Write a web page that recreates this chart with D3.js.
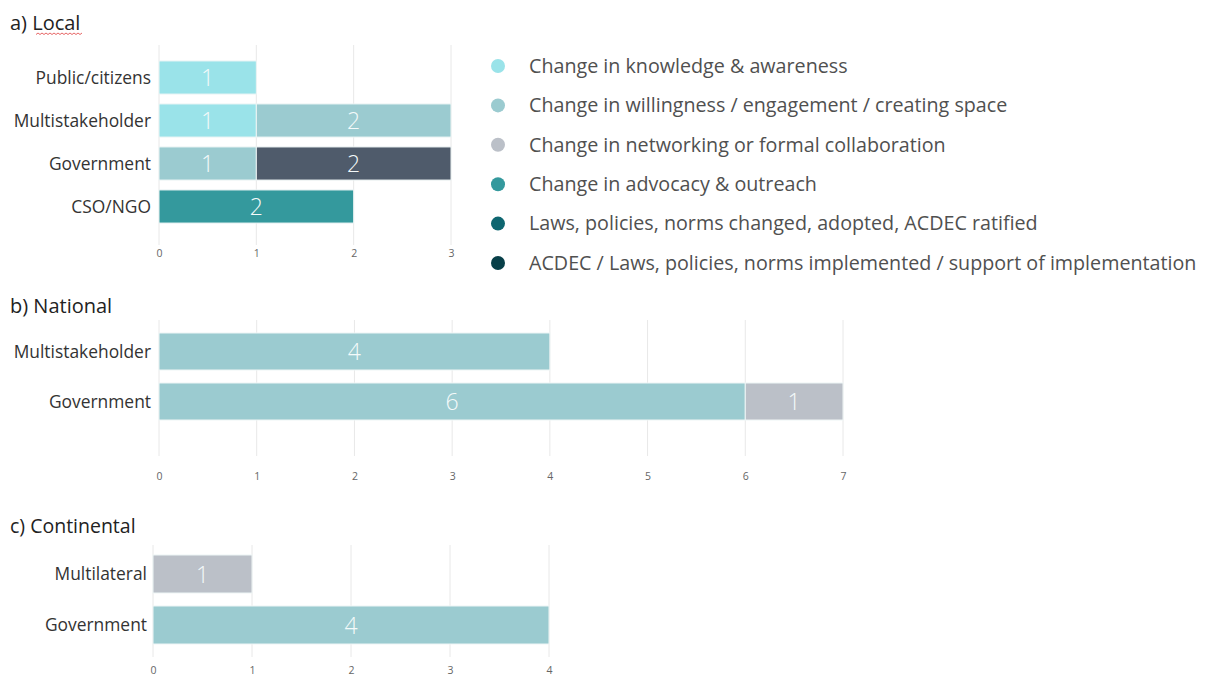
<!DOCTYPE html>
<html>
<head>
<meta charset="utf-8">
<script src="https://cdn.jsdelivr.net/npm/d3@7"></script>
<style>
  body { margin: 0; background: #fff; }
  svg text { font-family: "Open Sans", "Noto Sans", sans-serif; }
</style>
</head>
<body>
<svg id="chart" width="1206" height="677"></svg>
<script>
// series (legend order) + one extra dark slate used only by the local Government bar
const seriesNames = [
  'Change in knowledge & awareness',
  'Change in willingness / engagement / creating space',
  'Change in networking or formal collaboration',
  'Change in advocacy & outreach',
  'Laws, policies, norms changed, adopted, ACDEC ratified',
  'ACDEC / Laws, policies, norms implemented / support of implementation',
  'Other'
];
const seriesColors = ['#9ae3e9', '#9bcbd0', '#bbc0c8', '#34999d', '#0e6670', '#073f48', '#4f5b6b'];
const legendCount = 6;

// a) Local
const localCats = ['Public/citizens', 'Multistakeholder', 'Government', 'CSO/NGO'];
const localValues = [
  [1, 0, 0, 0, 0, 0, 0],
  [1, 2, 0, 0, 0, 0, 0],
  [0, 1, 0, 0, 0, 0, 2],
  [0, 0, 0, 2, 0, 0, 0]
];
const localTicks = [0, 1, 2, 3];

// b) National
const nationalCats = ['Multistakeholder', 'Government'];
const nationalValues = [
  [0, 4, 0, 0, 0, 0, 0],
  [0, 6, 1, 0, 0, 0, 0]
];
const nationalTicks = [0, 1, 2, 3, 4, 5, 6, 7];

// c) Continental
const continentalCats = ['Multilateral', 'Government'];
const continentalValues = [
  [0, 0, 1, 0, 0, 0, 0],
  [0, 4, 0, 0, 0, 0, 0]
];
const continentalTicks = [0, 1, 2, 3, 4];

const svg = d3.select('#chart');

function drawPanel(opts) {
  const g = svg.append('g');

  g.append('text')
    .attr('x', 10).attr('y', opts.titleY)
    .attr('font-size', opts.titleSize).attr('fill', '#222')
    .text(opts.title);

  const x = d3.scaleLinear()
    .domain([0, d3.max(opts.ticks)])
    .range(opts.xRange);

  const y = d3.scaleBand()
    .domain(opts.cats)
    .range(opts.yRange)
    .paddingInner(opts.pad)
    .paddingOuter(opts.pad / 2);

  // vertical gridlines
  g.append('g')
    .selectAll('line')
    .data(opts.ticks)
    .enter()
    .append('line')
    .attr('x1', d => x(d)).attr('x2', d => x(d))
    .attr('y1', opts.gridY[0]).attr('y2', opts.gridY[1])
    .attr('stroke', '#e8e8e8').attr('stroke-width', 1);

  // x tick labels
  const axis = g.append('g')
    .attr('transform', `translate(0,${opts.tickY})`)
    .call(d3.axisBottom(x).tickValues(opts.ticks).tickSize(0).tickFormat(d3.format('d')));
  axis.select('.domain').remove();
  axis.selectAll('text')
    .attr('y', 0).attr('dy', '0.35em')
    .attr('font-size', 10.5).attr('fill', '#666')
    .style('font-family', '"Open Sans", sans-serif');

  // stacked segments
  const segs = [];
  opts.values.forEach((row, i) => {
    let acc = 0;
    row.forEach((v, s) => {
      if (v > 0) segs.push({ cat: opts.cats[i], s: s, x0: acc, x1: acc + v, v: v });
      acc += v;
    });
  });

  g.append('g')
    .selectAll('rect')
    .data(segs)
    .enter()
    .append('rect')
    .attr('x', d => x(d.x0))
    .attr('y', d => y(d.cat))
    .attr('width', d => x(d.x1) - x(d.x0))
    .attr('height', y.bandwidth())
    .attr('fill', d => seriesColors[d.s])
    .attr('stroke', '#eef5f5').attr('stroke-width', 1);

  g.append('g')
    .selectAll('text')
    .data(segs)
    .enter()
    .append('text')
    .attr('x', d => (x(d.x0) + x(d.x1)) / 2)
    .attr('y', d => y(d.cat) + y.bandwidth() / 2)
    .attr('dy', '0.38em')
    .attr('text-anchor', 'middle')
    .attr('font-size', 23).attr('font-weight', 300).attr('fill', '#f4fafa')
    .text(d => d.v);

  // category labels
  g.append('g')
    .selectAll('text')
    .data(opts.cats)
    .enter()
    .append('text')
    .attr('x', opts.labelX)
    .attr('y', d => y(d) + y.bandwidth() / 2)
    .attr('dy', '0.35em')
    .attr('text-anchor', 'end')
    .attr('font-size', 17.4).attr('fill', '#333')
    .text(d => d);
}

drawPanel({
  title: 'a) Local', titleY: 30, titleSize: 20, cats: localCats, values: localValues, ticks: localTicks,
  xRange: [159, 451], yRange: [56, 228], pad: 0.23, gridY: [45, 245], tickY: 253, labelX: 151
});

// spell-check squiggle under "Local"
svg.append('path')
  .attr('d', d3.range(36, 84, 2).map((px, i) => (i ? 'L' : 'M') + px + ',' + (i % 2 ? 33 : 34.5)).join(''))
  .attr('fill', 'none').attr('stroke', '#e04040').attr('stroke-width', 0.8);

drawPanel({
  title: 'b) National', titleY: 313, titleSize: 20, cats: nationalCats, values: nationalValues, ticks: nationalTicks,
  xRange: [159, 843], yRange: [326.5, 426.5], pad: 0.26, gridY: [320, 456], tickY: 476, labelX: 151
});

drawPanel({
  title: 'c) Continental', titleY: 533, titleSize: 19.5, cats: continentalCats, values: continentalValues, ticks: continentalTicks,
  xRange: [153, 549], yRange: [548.5, 650.5], pad: 0.255, gridY: [545, 657], tickY: 670, labelX: 147
});

// legend
const legend = svg.append('g');
const items = seriesNames.slice(0, legendCount);
legend.selectAll('circle')
  .data(items)
  .enter()
  .append('circle')
  .attr('cx', 498)
  .attr('cy', (d, i) => 66 + i * 39.4)
  .attr('r', 7)
  .attr('fill', (d, i) => seriesColors[i]);
legend.selectAll('text')
  .data(items)
  .enter()
  .append('text')
  .attr('x', 529)
  .attr('y', (d, i) => 66 + i * 39.4)
  .attr('dy', '0.35em')
  .attr('font-size', 19.7).attr('fill', '#505050')
  .text(d => d);
</script>
</body>
</html>
